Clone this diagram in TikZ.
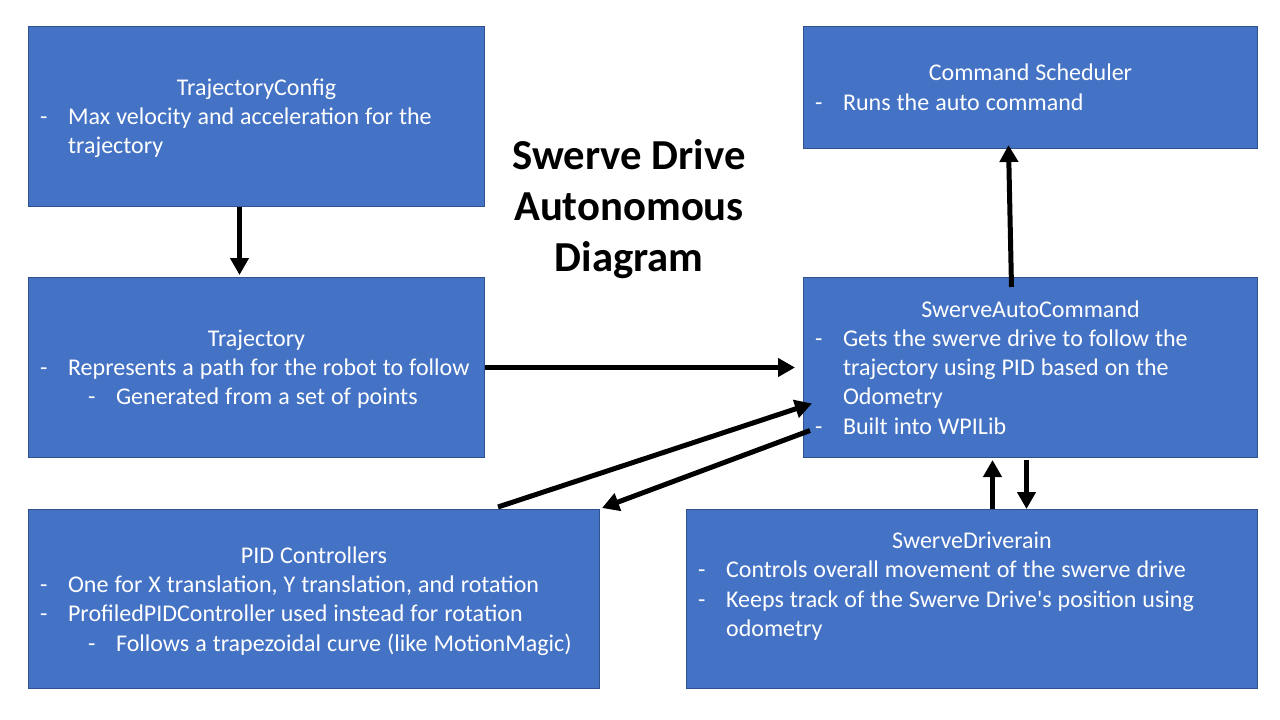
\documentclass[tikz,border=0pt]{standalone}
\usepackage{fontspec}
\newfontfamily\carlito{Carlito}
\usepackage{tikz}
\usetikzlibrary{calc, arrows.meta}

\definecolor{boxblue}{HTML}{4472C4}
\definecolor{boxedge}{HTML}{2F528F}

% one dash item, and one indented one
\newcommand{\tight}{\spaceskip=0.25em plus 0.05em\relax\hyphenpenalty=10000\relax}
\newcommand{\bul}[1]{\par\noindent\makebox[30pt][l]{\hspace*{2pt}-}%
	\parbox[t]{\dimexpr\linewidth-30pt}{\raggedright\tight #1\strut}\par\prevdepth=\dp\strutbox}
\newcommand{\subbul}[1]{\par\noindent\makebox[78pt][l]{\hspace*{50pt}-}%
	\parbox[t]{\dimexpr\linewidth-78pt}{\raggedright\tight #1\strut}\par\prevdepth=\dp\strutbox}
\newcommand{\boxtitle}[1]{{\centering\tight\rule{0pt}{25pt}#1\par}}

\tikzset{
	block/.style 2 args = {draw = boxedge, line width = 1pt, fill = boxblue, text = white,
		anchor = north west, minimum width = #1, minimum height = #2,
		inner xsep = 9.6pt, inner ysep = 0pt, text width = #1 - 19.2pt, align = left,
		font = \carlito\fontsize{24}{29.3}\selectfont},
	link/.style = {-{Triangle[length = 17pt, width = 18pt]}, line width = 5pt}
}

\begin{document}
\begin{tikzpicture}[x = 1pt, y = -1pt]
		\useasboundingbox [fill = white] (0,0) rectangle (1280,720);
		
		\node [block = {456pt}{180pt}] (cfg) at (28,26) {%
			\boxtitle{TrajectoryConfig}%
			\bul{Max velocity and acceleration for the\\ trajectory}};
		
		\node [block = {456pt}{180pt}] (traj) at (28,277) {%
			\boxtitle{Trajectory}%
			\bul{Represents a path for the robot to follow}%
			\subbul{Generated from a set of points}};
		
		\node [block = {454pt}{122pt}] (sched) at (803,26) {%
			\boxtitle{Command Scheduler}%
			\bul{Runs the auto command}};
		
		\node [block = {454pt}{180pt}] (auto) at (803,277) {%
			\boxtitle{SwerveAutoCommand}%
			\bul{Gets the swerve drive to follow the\\ trajectory using PID based on the\\ Odometry}%
			\bul{Built into WPILib}};
		
		\node [block = {571pt}{179pt}] (pid) at (28,509) {%
			\boxtitle{PID Controllers}%
			\bul{One for X translation, Y translation, and rotation}%
			\bul{ProfiledPIDController used instead for rotation}%
			\subbul{Follows a trapezoidal curve (like MotionMagic)}};
		
		\node [block = {571pt}{179pt}] (drv) at (686,509) {%
			\boxtitle{SwerveDriverain}%
			\bul{Controls overall movement of the swerve drive}%
			\bul{Keeps track of the Swerve Drive's position using\\ odometry}%
			\strut};
		
		\node [align = center, font = \carlito\fontsize{42.7}{51}\selectfont\bfseries] (title) at (629,209)
			{Swerve Drive\\Autonomous\\Diagram};
		
		\begin{scope}[link]
			\draw ($(cfg.south)+(-17,0)$) -- ($(traj.north)+(-17,-2)$);
			\draw (traj.east) -- ($(auto.west)+(-8,0)$);
			\draw ($(pid.north east)+(-102,-2)$) -- ($(auto.west)+(9,36)$);
			\draw ($(auto.west)+(7,63)$) -- ($(pid.north east)+(2,-1)$);
			\draw ($(drv.north)+(20.5,0)$) -- ($(auto.south)+(-38,2)$);
			\draw ($(auto.south)+(-4,2)$) -- ($(drv.north)+(54.5,0)$);
			\draw ($(auto.north)+(-19,10)$) -- ($(sched.south)+(-22,-4)$);
		\end{scope}
	\end{tikzpicture}
\end{document}
